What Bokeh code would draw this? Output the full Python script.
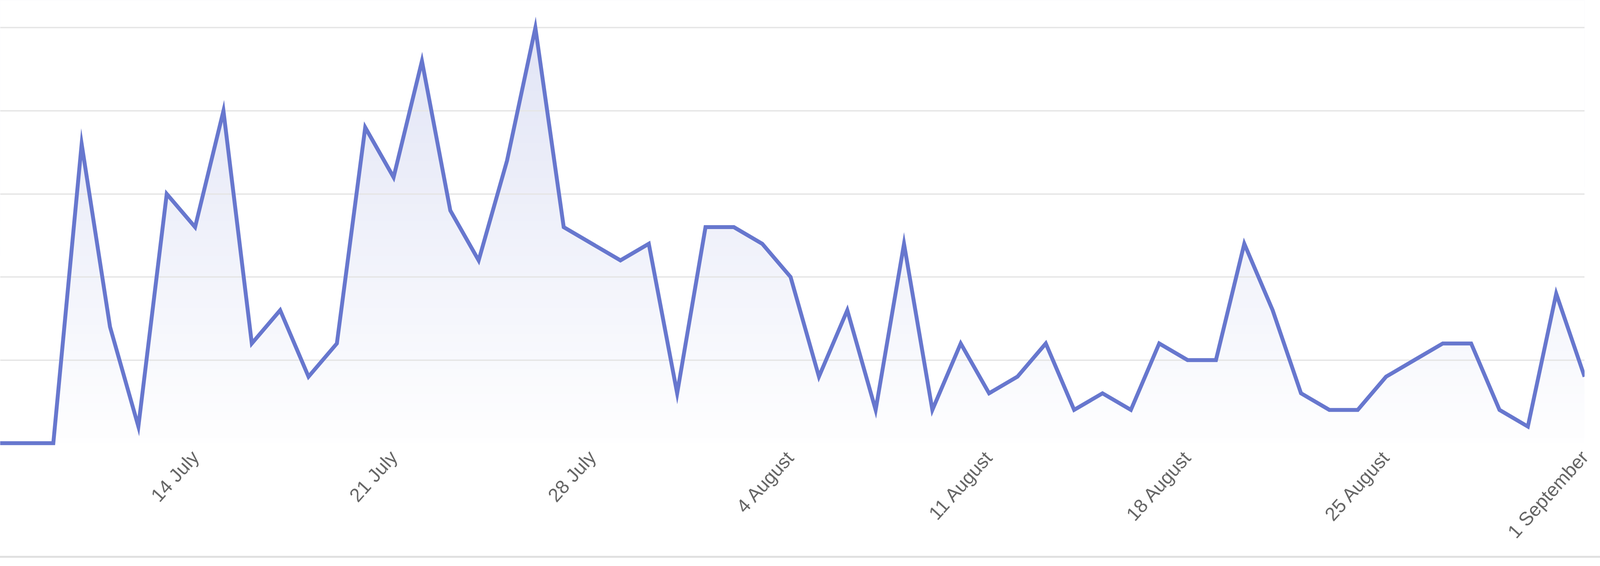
import numpy as np
import pandas as pd
from bokeh.plotting import figure
from bokeh.models import Range1d, FixedTicker
from bokeh.embed import file_html
from bokeh.resources import INLINE

# ---------------- data ----------------
start_date = "2024-07-07"
end_date = "2024-09-01"
daily_counts = [0, 0, 0, 18, 7, 1, 15, 13, 20, 6, 8, 4, 6, 19, 16, 23, 14, 11, 17, 25,
                13, 12, 11, 12, 3,
                13, 13, 12, 10, 4, 8, 2, 12, 2, 6, 3, 4, 6, 2, 3, 2, 6, 5, 5, 12,
                8, 3, 2, 2, 4, 5, 6, 6, 2, 1, 9,
                4]
tick_dates = ["2024-07-07", "2024-07-14", "2024-07-21", "2024-07-28", "2024-08-04",
              "2024-08-11", "2024-08-18", "2024-08-25", "2024-09-01"]
tick_labels = ["7 July", "14 July", "21 July", "28 July", "4 August",
               "11 August", "18 August", "25 August", "1 September"]
y_ticks = [5, 10, 15, 20, 25]

# ---------------- derived ----------------
dates = pd.date_range(start_date, end_date, freq="D")
day0 = dates[0]
x = np.array([(d - day0).days for d in dates], dtype=float)
y = np.array(daily_counts, dtype=float)
tick_x = [float((pd.Timestamp(t) - day0).days) for t in tick_dates]

LINE = "#6777ce"
x_start, x_end = 0.127, x[-1]
y_start, y_end = -0.207, 26.658

p = figure(width=4182, height=1427, output_backend="svg", toolbar_location=None,
           x_range=Range1d(x_start, x_end), y_range=Range1d(y_start, y_end),
           y_axis_location=None, min_border_left=0, min_border_right=126,
           min_border_top=0, min_border_bottom=285)
p.outline_line_color = None
p.background_fill_color = "white"
p.border_fill_color = "white"

# vertical gradient under the curve: gradient image + white cover above the curve
n = 256
alpha = np.linspace(0.01, 0.21, n)  # row 0 = bottom
img = np.zeros((n, 1), dtype=np.uint32)
view = img.view(dtype=np.uint8).reshape((n, 1, 4))
view[:, 0, 0] = 0x67
view[:, 0, 1] = 0x77
view[:, 0, 2] = 0xce
view[:, 0, 3] = (alpha * 255).astype(np.uint8)
p.image_rgba(image=[img], x=x_start, y=0, dw=x_end - x_start, dh=y_end, level="image")
p.varea(x=x, y1=y, y2=y_end, fill_color="white", level="image")

p.line(x, y, line_color=LINE, line_width=10, line_join="miter")

# axes / grid
p.xgrid.visible = False
p.ygrid.ticker = FixedTicker(ticks=y_ticks)
p.ygrid.grid_line_color = "#e5e5e5"
p.ygrid.grid_line_width = 3.5

ax = p.xaxis[0]
ax.ticker = FixedTicker(ticks=tick_x)
ax.major_label_overrides = {tx: lab for tx, lab in zip(tick_x, tick_labels)}
ax.major_label_orientation = np.deg2rad(48)
ax.major_label_text_font = "Liberation Sans"
ax.major_label_text_font_size = "49px"
ax.major_label_text_color = "#666666"
ax.major_label_standoff = 18
ax.axis_line_color = None
ax.major_tick_line_color = None
ax.minor_tick_line_color = None
ax.major_tick_out = 0
ax.major_tick_in = 0

p.styles = {"border-bottom": "5px solid #e0e0e0", "border-bottom-right-radius": "18px"}

open("out.html", "w").write(file_html(p, INLINE))
